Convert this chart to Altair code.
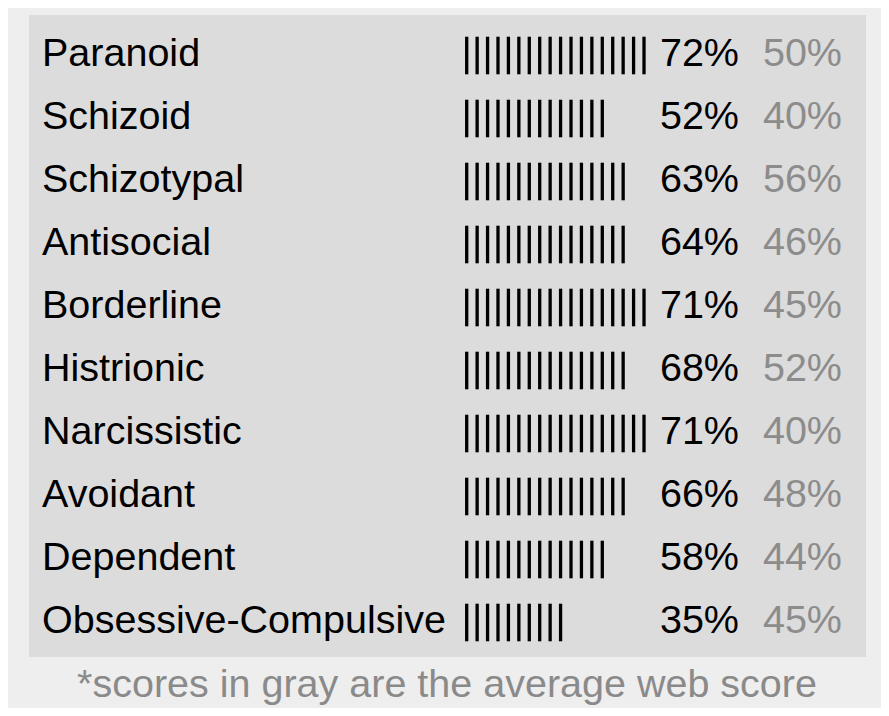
import altair as alt
import pandas as pd

categories = ["Paranoid", "Schizoid", "Schizotypal", "Antisocial", "Borderline",
              "Histrionic", "Narcissistic", "Avoidant", "Dependent", "Obsessive-Compulsive"]
scores = [72, 52, 63, 64, 71, 68, 71, 66, 58, 35]
web_scores = [50, 40, 56, 46, 45, 52, 40, 48, 44, 45]
bar_counts = [18, 14, 16, 16, 18, 16, 18, 16, 14, 10]
footnote = "*scores in gray are the average web score"

W, H = 873, 700
FONT = "Liberation Sans"
FS = 39.5

df = pd.DataFrame({
    "cat": categories,
    "score": [f"{s}%" for s in scores],
    "web": [f"{w}%" for w in web_scores],
})
bars = pd.DataFrame([{"cat": c, "i": i} for c, n in zip(categories, bar_counts) for i in range(n)])

yscale = alt.Scale(domain=categories, range=[12.5, 642.5], paddingInner=0, paddingOuter=0)
ych = alt.Y("cat:N", scale=yscale, axis=None, sort=categories)

panel = alt.Chart(pd.DataFrame({"a": [0]})).mark_rect(color="#dcdcdc").encode(
    x=alt.value(21), x2=alt.value(858), y=alt.value(7), y2=alt.value(649)
)

labels = alt.Chart(df).mark_text(
    align="left", baseline="alphabetic", dy=14, font=FONT, fontSize=FS, color="#000000"
).encode(y=ych, x=alt.value(34), text="cat:N")

ticks = alt.Chart(bars).mark_tick(
    orient="vertical", thickness=3.3, size=37.6, yOffset=3.5, color="#000000", opacity=1
).encode(
    x=alt.X("i:Q", scale=alt.Scale(domain=[0, 17], range=[458.7, 458.7 + 17 * 10.43]), axis=None),
    y=ych,
)

pct = alt.Chart(df).mark_text(
    align="right", baseline="alphabetic", dy=14, font=FONT, fontSize=FS, color="#000000"
).encode(y=ych, x=alt.value(731), text="score:N")

webpct = alt.Chart(df).mark_text(
    align="right", baseline="alphabetic", dy=14, font=FONT, fontSize=FS, color="#8c8c8c"
).encode(y=ych, x=alt.value(834), text="web:N")

foot = alt.Chart(pd.DataFrame({"t": [footnote]})).mark_text(
    align="center", baseline="alphabetic", font=FONT, fontSize=FS, color="#8a8a8a"
).encode(x=alt.value(439), y=alt.value(689), text="t:N")

chart = alt.layer(panel, labels, ticks, pct, webpct, foot).properties(
    width=W, height=H, autosize=alt.AutoSizeParams(type="none"), padding=0,
    background="#eeeeee"
).configure_view(stroke=None)

chart.save("out.html", embed_options={"renderer": "svg", "actions": False})
